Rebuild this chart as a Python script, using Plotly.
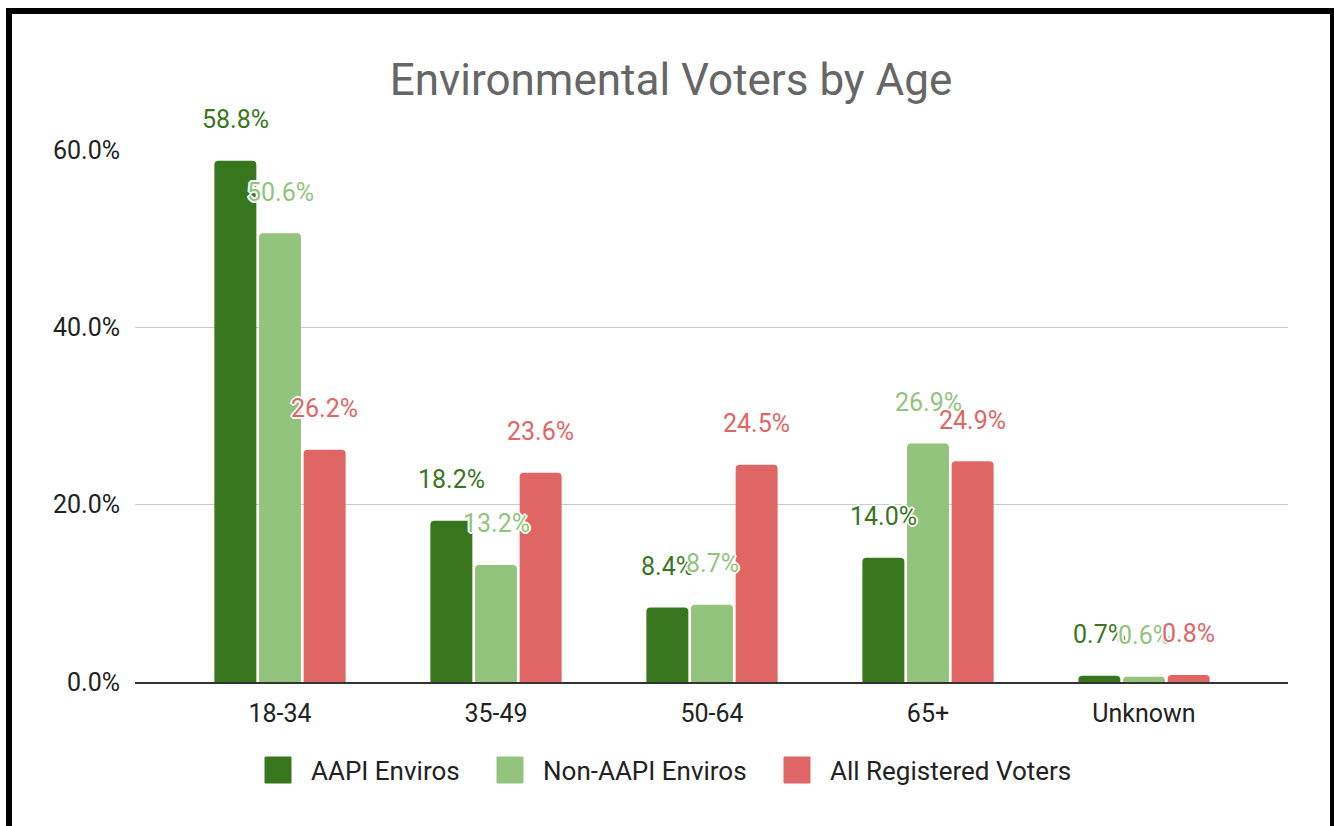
import plotly.graph_objects as go

# Share of voters in each age bracket, by group (percent)
age_groups = ["18-34", "35-49", "50-64", "65+", "Unknown"]
aapi_enviros = [58.8, 18.2, 8.4, 14.0, 0.7]
non_aapi_enviros = [50.6, 13.2, 8.7, 26.9, 0.6]
all_registered = [26.2, 23.6, 24.5, 24.9, 0.8]

series_names = ["AAPI Enviros", "Non-AAPI Enviros", "All Registered Voters"]
series_values = [aapi_enviros, non_aapi_enviros, all_registered]
series_colors = ["#38761d", "#93c47d", "#e06666"]

y_ticks = [0, 20, 40, 60]

W, H = 1334, 826
M_L, M_R, M_T, M_B = 135, 46, 150, 144
BARGAP = 0.38
FONT = "Roboto, Arial, sans-serif"
TEXT_SIZE = 25
LEGEND_SIZE = 26
HALO = ("-1px -1px 0 #fff, 1px -1px 0 #fff, -1px 1px 0 #fff, 1px 1px 0 #fff, "
        "0 -2px 0 #fff, 0 2px 0 #fff, -2px 0 0 #fff, 2px 0 0 #fff")

plot_w = W - M_L - M_R
plot_h = H - M_T - M_B


def px_to_paper_x(px):
    return (px - M_L) / plot_w


def px_to_paper_y(py):
    return (H - M_B - py) / plot_h


fig = go.Figure()
for name, vals, color in zip(series_names, series_values, series_colors):
    fig.add_trace(go.Bar(
        name=name, x=age_groups, y=vals,
        marker=dict(color=color, line=dict(width=0)),
        hoverinfo="x+y+name", showlegend=False,
    ))

# Value labels above each bar, centred on its slot within the group
n_series = len(series_values)
slot = (1 - BARGAP) / n_series
annotations = []
for j, (vals, color) in enumerate(zip(series_values, series_colors)):
    for i, v in enumerate(vals):
        annotations.append(dict(
            x=i + (j - (n_series - 1) / 2) * slot, y=v,
            xref="x", yref="y",
            text=f"{v:.1f}%", showarrow=False,
            yanchor="middle", yshift=41,
            font=dict(family=FONT, size=TEXT_SIZE, color=color, shadow=HALO),
        ))

# Legend drawn below the plot: swatch left edges and label starts in pixels
legend_swatch_x = [265, 497, 784]
legend_text_x = [309, 541, 828]
legend_cy = 770
swatch = 26
shapes = []
for name, color, sx, tx in zip(series_names, series_colors, legend_swatch_x, legend_text_x):
    shapes.append(dict(
        type="rect", xref="paper", yref="paper",
        x0=px_to_paper_x(sx), x1=px_to_paper_x(sx + swatch),
        y0=px_to_paper_y(legend_cy + swatch / 2), y1=px_to_paper_y(legend_cy - swatch / 2),
        line=dict(color=color, width=1), fillcolor=color,
    ))
    annotations.append(dict(
        x=px_to_paper_x(tx), y=px_to_paper_y(legend_cy + 1),
        xref="paper", yref="paper", xanchor="left", yanchor="middle",
        text=name, showarrow=False,
        font=dict(family=FONT, size=LEGEND_SIZE, color="#222222"),
    ))

# Outer frame around the chart
shapes.append(dict(
    type="rect", xref="paper", yref="paper",
    x0=px_to_paper_x(9), x1=px_to_paper_x(1333),
    y0=px_to_paper_y(832), y1=px_to_paper_y(11),
    line=dict(color="black", width=6), fillcolor="rgba(0,0,0,0)",
    layer="above",
))

# Category spacing of 216 px with the first group centred 145 px in
cat_px = 216
first_center_px = 145

fig.update_layout(
    width=W, height=H,
    margin=dict(l=M_L, r=M_R, t=M_T, b=M_B, pad=0),
    paper_bgcolor="white", plot_bgcolor="white",
    barmode="group", bargap=BARGAP, bargroupgap=0.06,
    barcornerradius=4,
    font=dict(family=FONT, size=TEXT_SIZE, color="#222222"),
    title=dict(
        text="Environmental Voters by Age",
        x=671 / W, xref="container", xanchor="center",
        y=1 - 80 / H, yref="container", yanchor="middle",
        font=dict(family=FONT, size=44, color="#666666"),
    ),
    xaxis=dict(
        type="category",
        range=[-first_center_px / cat_px, (plot_w - first_center_px) / cat_px],
        showgrid=False, ticks="", ticklabelstandoff=8,
        showline=True, linecolor="#333333", linewidth=2,
        tickfont=dict(family=FONT, size=TEXT_SIZE, color="#222222"),
        fixedrange=True,
    ),
    yaxis=dict(
        range=[0, 60], tickvals=y_ticks,
        ticktext=[f"{t:.1f}%" for t in y_ticks],
        showgrid=True, gridcolor="#cccccc", gridwidth=1,
        zeroline=False, showline=False, ticks="", ticklabelstandoff=14,
        tickfont=dict(family=FONT, size=TEXT_SIZE, color="#222222"),
        fixedrange=True,
    ),
    annotations=annotations,
    shapes=shapes,
    showlegend=False,
)

fig.write_html("out.html", config={"displayModeBar": False})
